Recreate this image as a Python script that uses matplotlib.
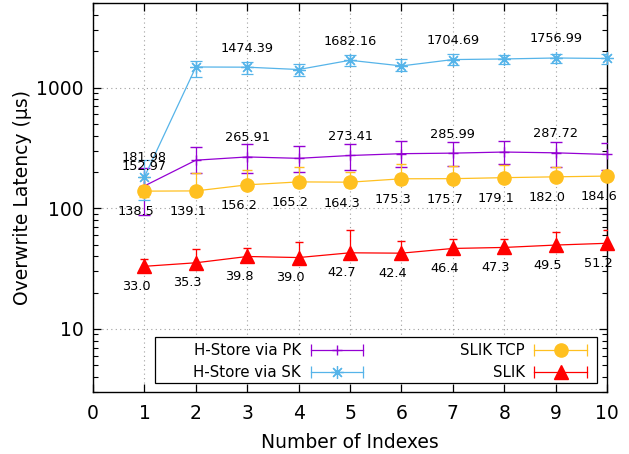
import matplotlib
matplotlib.use('Agg')
import matplotlib.pyplot as plt
from matplotlib.legend_handler import HandlerBase
from matplotlib.lines import Line2D
from matplotlib.patches import Rectangle

# number of indexes
x = [1, 2, 3, 4, 5, 6, 7, 8, 9, 10]

# H-Store via PK (mean, low, high)
pk = [152.97, 250, 265.91, 259, 273.41, 283, 285.99, 292, 287.72, 279]
pk_lo = [88, 194, 197, 199, 209, 220, 225, 232, 220, 206]
pk_hi = [215, 321, 338, 327, 339, 361, 355, 361, 355, 344]

# H-Store via SK
sk = [181.98, 1480, 1474.39, 1410, 1682.16, 1510, 1704.69, 1725, 1756.99, 1740]
sk_lo = [116, 1230, 1290, 1257, 1502, 1366, 1532, 1581, 1601, 1581]
sk_hi = [250, 1650, 1633, 1581, 1853, 1717, 1889, 1877, 1914, 1914]

# SLIK TCP
tcp = [138.5, 139.1, 156.2, 165.2, 164.3, 175.3, 175.7, 179.1, 182.0, 184.6]
tcp_lo = [125, 127, 143, 150, 150, 160, 161, 164, 167, 170]
tcp_hi = [181, 197, 209, 220, 200, 234, 224, 226, 220, 209]

# SLIK
slik = [33.0, 35.3, 39.8, 39.0, 42.7, 42.4, 46.4, 47.3, 49.5, 51.2]
slik_lo = [30.5, 32.5, 37.0, 36.0, 39.5, 39.2, 43.0, 44.0, 46.0, 47.5]
slik_hi = [37.7, 45.5, 47.0, 52.0, 65.8, 53.0, 55.9, 55.5, 63.4, 65.8]

labeled_x = [1, 3, 5, 7, 9]


class HorizontalErrorbar(HandlerBase):
    # gnuplot style key sample: horizontal bar with caps and point in the middle
    def create_artists(self, legend, orig_handle, xdescent, ydescent,
                       width, height, fontsize, trans):
        c = orig_handle.get_color()
        y = height / 2 - ydescent
        x0, x1 = -xdescent, -xdescent + width
        bar = Line2D([x0, x1], [y, y], color=c, lw=0.9)
        caps = Line2D([x0, x1], [y, y], color=c, ls='none', marker='|', ms=8, mew=0.9)
        mark = Line2D([(x0 + x1) / 2], [y], color=c, ls='none',
                      marker=orig_handle.get_marker(),
                      ms=orig_handle.get_markersize(),
                      mew=orig_handle.get_markeredgewidth())
        arts = [bar, caps, mark]
        for a in arts:
            a.set_transform(trans)
        return arts


def yerr(v, lo, hi):
    return [[a - b for a, b in zip(v, lo)], [b - a for a, b in zip(v, hi)]]


fig = plt.figure(figsize=(6.29, 4.54), dpi=100)
ax = fig.add_axes([0.148, 0.1366, 0.817, 0.8564])

series = [
    ('H-Store via PK', pk, pk_lo, pk_hi, '#9400D3', '+', 7, 1.0, 4.3),
    ('H-Store via SK', sk, sk_lo, sk_hi, '#56B4E9', (8, 2, 0), 9, 0.9, 4.0),
    ('SLIK TCP', tcp, tcp_lo, tcp_hi, '#FFC020', 'o', 9.5, 1.0, 3.6),
    ('SLIK', slik, slik_lo, slik_hi, '#FF0000', '^', 10, 1.0, 3.2),
]

handles = []
names = []
for name, v, lo, hi, col, mk, ms, mew, cs in series:
    eb = ax.errorbar(x, v, yerr=yerr(v, lo, hi), color=col, marker=mk, ms=ms,
                     mew=mew, lw=0.9, elinewidth=0.9, capsize=cs, capthick=0.9,
                     zorder=3)
    eb[0].set_clip_on(False)
    handles.append(eb[0])
    names.append(name)

# value labels
for xi, v in zip(x, pk):
    if xi in labeled_x:
        ax.annotate('%.2f' % v, (xi, v), xytext=(0, 13.7), textcoords='offset points',
                    ha='center', va='center', fontsize=9.3, zorder=5)
for xi, v in zip(x, sk):
    if xi in labeled_x:
        ax.annotate('%.2f' % v, (xi, v), xytext=(0, 13.7), textcoords='offset points',
                    ha='center', va='center', fontsize=9.3, zorder=5)
for xi, v in zip(x, tcp):
    ax.annotate('%.1f' % v, (xi, v), xytext=(-6, -15), textcoords='offset points',
                ha='center', va='center', fontsize=9.3, zorder=5)
for xi, v in zip(x, slik):
    ax.annotate('%.1f' % v, (xi, v), xytext=(-6, -14.5), textcoords='offset points',
                ha='center', va='center', fontsize=9.3, zorder=5)

ax.set_yscale('log')
ax.set_xlim(0, 10)
ax.set_ylim(3, 5000)
ax.set_xticks(range(0, 11))
ax.set_yticks([10, 100, 1000])
ax.set_yticklabels(['10', '100', '1000'])
ax.xaxis.set_minor_locator(matplotlib.ticker.NullLocator())
ax.tick_params(which='both', direction='in', top=True, right=True, labelsize=13.5)
ax.tick_params(which='major', length=6, width=0.9)
ax.tick_params(which='minor', length=3.5, width=0.8)
ax.tick_params(axis='x', pad=9)
ax.tick_params(axis='y', pad=7)
ax.grid(True, which='major', ls=(0, (1, 3)), color='#a0a0a0', lw=0.8, zorder=0)
for s in ax.spines.values():
    s.set_linewidth(1.0)

ax.set_xlabel('Number of Indexes', fontsize=13.5)
ax.set_ylabel('Overwrite Latency (µs)', fontsize=13.5)
ax.xaxis.set_label_coords(0.5, -0.106)
ax.yaxis.set_label_coords(-0.118, 0.5)

# key box drawn separately (gnuplot key has a wide left margin)
ax.add_patch(Rectangle((0.1206, 0.0231), 0.86, 0.1183, transform=ax.transAxes,
                       facecolor='white', edgecolor='black', lw=0.9, zorder=5))
leg = ax.legend(handles, names, ncol=2, loc='lower right',
                bbox_to_anchor=(0.961, 0.031), frameon=False,
                markerfirst=False, fontsize=10.8, handlelength=3.5,
                handletextpad=0.65, labelspacing=0.45, borderpad=0,
                borderaxespad=0, columnspacing=6.45,
                handler_map={h: HorizontalErrorbar() for h in handles})
leg.set_zorder(6)

fig.savefig('out.png', dpi=100)
